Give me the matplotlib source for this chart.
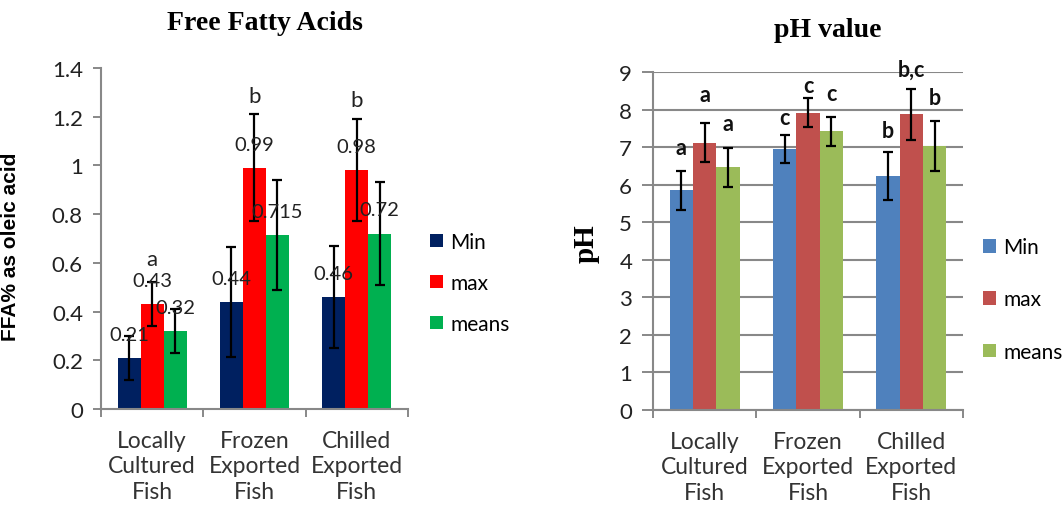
import matplotlib.pyplot as plt
import numpy as np

cats = ['Locally\nCultured\nFish', 'Frozen\nExported\nFish', 'Chilled\nExported\nFish']
series = ['Min', 'max', 'means']

# Free fatty acids
ffa_min = [0.21, 0.44, 0.46]
ffa_max = [0.43, 0.99, 0.98]
ffa_mean = [0.32, 0.715, 0.72]
ffa_min_err = [0.09, 0.225, 0.21]
ffa_max_err = [0.09, 0.22, 0.21]
ffa_mean_err = [0.09, 0.225, 0.21]
ffa_min_lbl = ['0.21', '0.44', '0.46']
ffa_max_lbl = ['0.43', '0.99', '0.98']
ffa_mean_lbl = ['0.32', '0.715', '0.72']
ffa_letters = ['a', 'b', 'b']   # over the max bars
ffa_letter_y = [0.616, 1.285, 1.27]

# pH
ph_min = [5.85, 6.95, 6.23]
ph_max = [7.12, 7.92, 7.88]
ph_mean = [6.47, 7.42, 7.03]
ph_min_err = [0.52, 0.38, 0.65]
ph_max_err = [0.52, 0.39, 0.68]
ph_mean_err = [0.52, 0.39, 0.67]
ph_letters = [['a', 'a', 'a'], ['c', 'c', 'c'], ['b', 'b,c', 'b']]
ph_letter_y = [[6.98, 8.4, 7.64], [7.78, 8.65, 8.42], [7.45, 9.08, 8.32]]

plt.rcParams['font.family'] = ['Lato', 'DejaVu Sans']

fig = plt.figure(figsize=(10.64, 5.06), dpi=100)
ax1 = fig.add_axes([0.0949, 0.1897, 0.2885, 0.674])
ax2 = fig.add_axes([0.6137, 0.1877, 0.2914, 0.668])

x = np.arange(3)
w = 0.225
offs = [-w, 0, w]
gray = '#888888'


def style_axes(ax, ymax, step):
    ax.set_xlim(-0.5, 2.5)
    ax.set_ylim(0, ymax)
    ax.set_yticks(np.arange(0, ymax + step / 2, step))
    ax.set_xticks(x)
    ax.set_xticklabels(cats, fontsize=16.5, color='#333333', linespacing=1.27)
    ax.set_xticks([-0.5, 0.5, 1.5, 2.5], minor=True)
    ax.tick_params(axis='x', which='major', length=0, pad=15)
    ax.tick_params(axis='x', which='minor', length=6, color=gray, width=1.4)
    ax.tick_params(axis='y', length=6, color=gray, width=1.4, labelsize=16,
                   labelcolor='#222222', pad=7)
    for s in ['top', 'right']:
        ax.spines[s].set_visible(False)
    for s in ['left', 'bottom']:
        ax.spines[s].set_color(gray)
        ax.spines[s].set_linewidth(1.5)


# ---- Free Fatty Acids
cols1 = ['#002060', '#ff0000', '#00b050']
vals1 = [ffa_min, ffa_max, ffa_mean]
errs1 = [ffa_min_err, ffa_max_err, ffa_mean_err]
lbls1 = [ffa_min_lbl, ffa_max_lbl, ffa_mean_lbl]
for i in range(3):
    ax1.bar(x + offs[i], vals1[i], w, color=cols1[i], label=series[i], zorder=2)
    ax1.errorbar(x + offs[i], vals1[i], yerr=errs1[i], fmt='none', ecolor='black',
                 elinewidth=1.6, capsize=3.6, capthick=1.6, zorder=3)
    for j in range(3):
        ax1.text(x[j] + offs[i], vals1[i][j] + 0.097, lbls1[i][j], ha='center',
                 va='center', fontsize=14.5, color='#222222', zorder=4)
for j in range(3):
    ax1.text(x[j], ffa_letter_y[j], ffa_letters[j], ha='center', va='center',
             fontsize=16, color='#222222')
style_axes(ax1, 1.4, 0.2)
ax1.set_yticklabels(['0', '0.2', '0.4', '0.6', '0.8', '1', '1.2', '1.4'])
ax1.set_ylabel('FFA% as oleic acid', fontsize=15, fontweight='bold',
               family='Liberation Sans')
ax1.yaxis.set_label_coords(-0.264, 0.478)
fig.text(0.249, 0.9545, 'Free Fatty Acids', ha='center', va='center',
         fontsize=20, fontweight='bold', family='Liberation Serif')
ax1.legend(loc='center left', bbox_to_anchor=(1.072, 0.37), frameon=False,
           fontsize=15, handlelength=0.62, handleheight=0.62, labelspacing=1.0,
           handletextpad=0.34, borderpad=0, borderaxespad=0)

# ---- pH value
cols2 = ['#4f81bd', '#c0504d', '#9bbb59']
vals2 = [ph_min, ph_max, ph_mean]
errs2 = [ph_min_err, ph_max_err, ph_mean_err]
ax2.grid(axis='y', color=gray, linewidth=1.5, zorder=0)
ax2.set_axisbelow(True)
for i in range(3):
    ax2.bar(x + offs[i], vals2[i], w, color=cols2[i], label=series[i], zorder=2)
    ax2.errorbar(x + offs[i], vals2[i], yerr=errs2[i], fmt='none', ecolor='black',
                 elinewidth=1.6, capsize=3.6, capthick=1.6, zorder=3)
for j in range(3):
    for i in range(3):
        ax2.text(x[j] + offs[i], ph_letter_y[j][i], ph_letters[j][i], ha='center',
                 va='center', fontsize=15.5, fontweight='bold', color='#111111')
style_axes(ax2, 9, 1)
ax2.tick_params(axis='y', length=8)
ax2.set_ylabel('pH', fontsize=21, fontweight='bold', family='Liberation Serif')
ax2.yaxis.set_label_coords(-0.171, 0.494)
fig.text(0.778, 0.9407, 'pH value', ha='center', va='center',
         fontsize=20, fontweight='bold', family='Liberation Serif')
ax2.legend(loc='center left', bbox_to_anchor=(1.065, 0.327), frameon=False,
           fontsize=15, handlelength=0.62, handleheight=0.62, labelspacing=1.55,
           handletextpad=0.34, borderpad=0, borderaxespad=0)

fig.savefig('out.png', dpi=100)
